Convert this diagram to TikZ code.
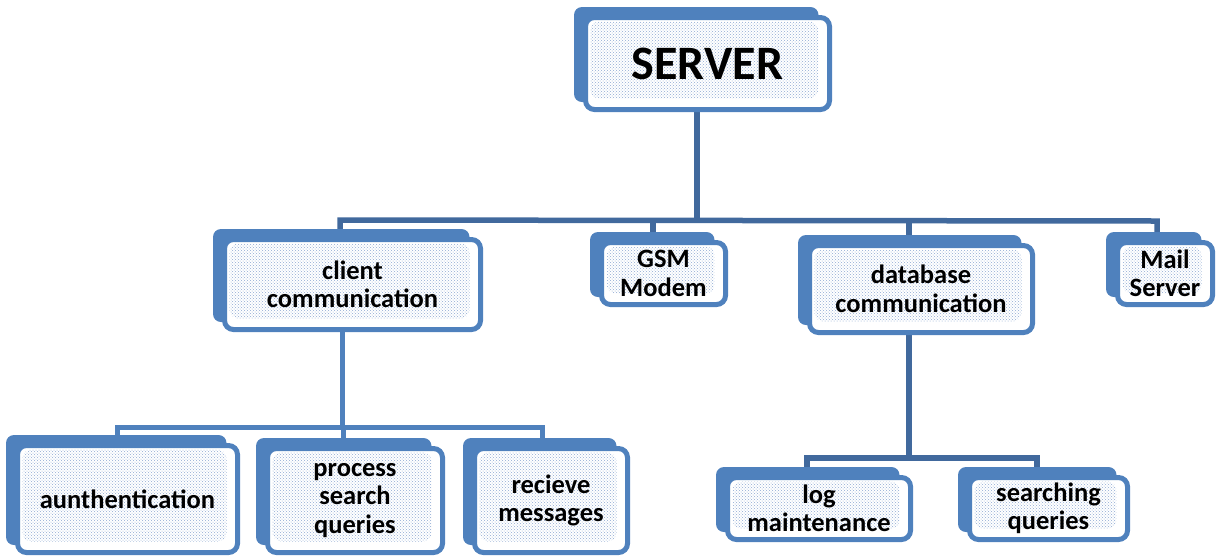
\documentclass[tikz,border=0pt]{standalone}
\usepackage{fontspec}
\setmainfont{Carlito}
\usetikzlibrary{calc,patterns}
\definecolor{boxblue}{HTML}{4F81BD}
\definecolor{linedark}{HTML}{41699D}
\definecolor{dotblue}{HTML}{8FAAD2}
\pgfdeclarelayer{bg}
\pgfdeclarelayer{mid}
\pgfsetlayers{bg,mid,main}
\tikzset{
  front/.style={draw=boxblue, line width=5pt, fill=white, rounded corners=9pt,
    font=\fontsize{26.5}{28.5}\selectfont\bfseries, align=center, inner sep=0pt,
    path picture={\fill[pattern=crosshatch dots, pattern color=dotblue]
      ($(path picture bounding box.south west)+(5pt,11pt)$) rectangle
      ($(path picture bounding box.north east)+(-11pt,-4pt)$);}},
  back/.style={fill=boxblue, rounded corners=8pt},
  conn/.style={draw=linedark, line width=5.5pt},
  connl/.style={draw=boxblue, line width=5pt},
}
\begin{document}
\begin{tikzpicture}[x=1pt,y=-1pt]
\useasboundingbox (0,0) rectangle (1216,558);
\node[front, minimum width=244pt, minimum height=92pt, font=\fontsize{48}{54}\selectfont\bfseries] (srv) at (707.5,63.5) {SERVER};
\node[front, minimum width=256pt, minimum height=90pt] (cc) at (352.5,284.5) {client\\communication};
\node[front, minimum width=124pt, minimum height=62pt] (gsm) at (663.5,273.5) {GSM\\Modem};
\node[front, minimum width=223pt, minimum height=87pt] (db) at (921,289) {database\\communication};
\node[front, minimum width=95pt, minimum height=62pt] (mail) at (1165,273.5) {Mail\\Server};
\node[front, minimum width=220pt, minimum height=107pt] (auth) at (127.5,499) {aunthentication};
\node[front, minimum width=175pt, minimum height=104pt] (psq) at (355,500.5) {process\\search\\queries};
\node[front, minimum width=153pt, minimum height=104pt] (rm) at (551,500.5) {recieve\\messages};
\node[front, minimum width=183pt, minimum height=62pt] (log) at (819,508.5) {log\\maintenance};
\node[front, minimum width=158pt, minimum height=62pt] (sq) at (1048.5,508.5) {searching\\queries};
\begin{pgfonlayer}{mid}
\foreach \n in {srv,cc,gsm,db,mail,auth,psq,rm,log,sq}
  \fill[back] ($(\n.north west)+(-9pt,8pt)$) rectangle ($(\n.south east)+(-13.5pt,10pt)$);
\end{pgfonlayer}
\coordinate (top) at (697,221);
\coordinate (busL) at (340,220);
\coordinate (busR) at (1157,221);
\coordinate (gsmx) at (653,221);
\coordinate (dbx) at (909,221);
\coordinate (subL) at (117,427);
\coordinate (subR) at (542,427);
\coordinate (subC) at (342,427);
\coordinate (psqx) at (343,427);
\coordinate (dsub) at (909,458);
\coordinate (logx) at (807,458);
\coordinate (sqx) at (1037,458);
\begin{pgfonlayer}{bg}
\draw[conn] (top |- srv.south) -- (top);
\draw[conn] (busL |- cc.north) -- (busL) -- (busR) -- (busR |- mail.north);
\draw[conn] (gsmx) -- (gsmx |- gsm.north);
\draw[conn] (dbx) -- (dbx |- db.north);
\draw[connl] (subC |- cc.south) -- (subC);
\draw[connl] (subL |- auth.north) -- (subL) -- (subR) -- (subR |- rm.north);
\draw[connl] (psqx) -- (psqx |- psq.north);
\draw[conn] (dsub |- db.south) -- (dsub);
\draw[conn] (logx |- log.north) -- (logx) -- (sqx) -- (sqx |- sq.north);
\end{pgfonlayer}
\end{tikzpicture}
\end{document}
